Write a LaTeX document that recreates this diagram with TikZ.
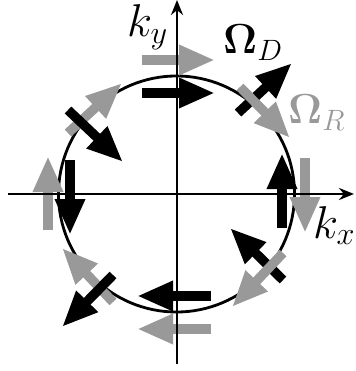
\RequirePackage{fix-cm}
\documentclass[tikz,border=0pt]{standalone}
\usepackage{amsmath}
\usetikzlibrary{arrows.meta}
\definecolor{spingray}{gray}{0.6}
\begin{document}
\begin{tikzpicture}[x=1pt,y=-1pt,
  spin/.style={line width=9.5pt, -{Triangle[length=36pt,width=28pt]}},
  dres/.style={spin, black},
  rash/.style={spin, spingray},
  axis/.style={line width=2.8pt, -{Stealth[length=15pt,width=12pt]}},
  lab/.style={inner sep=0pt, anchor=base west},
  kfont/.style={font=\fontsize{46}{52}\selectfont},
  ofont/.style={font=\fontsize{42}{48}\selectfont}]
\useasboundingbox (0,0) rectangle (355,371);
\coordinate (O) at (176.5,194);
\draw[line width=2.8pt] (O) circle[radius=118pt];
% top
\draw[rash] (142,60) -- (215,60);
\draw[dres] (142,93) -- (215,93);
% right
\draw[dres] (282,228) -- (282,153);
\draw[rash] (305,158) -- (305,233);
% bottom
\draw[dres] (211,296) -- (137,296);
\draw[rash] (211,329) -- (137,329);
% left
\draw[rash] (48,230) -- (48,156);
\draw[dres] (70,160) -- (70,235);
% upper left
\draw[rash] (68,133) -- (122,83);
\draw[dres] (68,110) -- (123,162);
% upper right
\draw[dres] (238,113) -- (292,63);
\draw[rash] (240,87) -- (290,138);
% lower right
\draw[dres] (283,280) -- (230,228);
\draw[rash] (283,253) -- (232,307);
% lower left
\draw[rash] (113,302) -- (62,248);
\draw[dres] (113,275) -- (62,327);
% axes
\coordinate (xs) at (8,194);
\coordinate (xe) at (354,194);
\coordinate (ys) at (177,364);
\coordinate (ye) at (177,0);
\draw[axis] (xs) -- (xe);
\draw[axis] (ys) -- (ye);
% labels
\node[lab,kfont] (ky) at (127,37) {$k_y$};
\node[lab,kfont] (kx) at (313,238) {$k_x$};
\node[lab,ofont] (OD) at (223,54) {$\mathbf{\Omega}_D$};
\node[lab,ofont,text=spingray] (OR) at (288,124) {$\mathbf{\Omega}_R$};
\end{tikzpicture}
\end{document}
